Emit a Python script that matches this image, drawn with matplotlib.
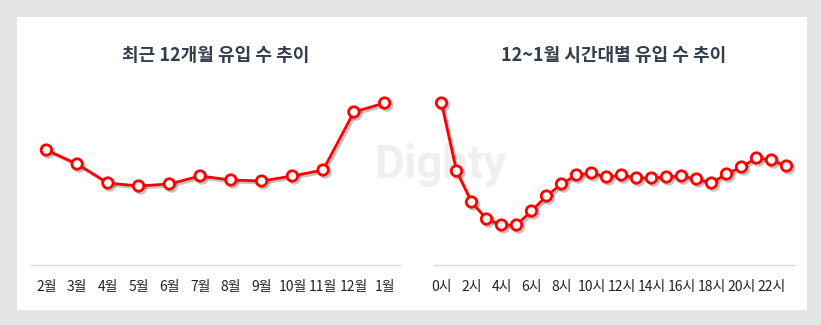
import matplotlib
matplotlib.use("Agg")
import matplotlib.pyplot as plt
import matplotlib.patheffects as pe
from matplotlib.patches import Rectangle

plt.rcParams['font.family'] = ['Noto Sans CJK KR', 'DejaVu Sans']

# monthly inflow over the last 12 months
months = ['2월', '3월', '4월', '5월', '6월', '7월', '8월', '9월', '10월', '11월', '12월', '1월']
monthly_visits = [115, 101, 82, 79, 81, 89, 85, 84, 89, 95, 153, 162]

# hourly inflow, Dec~Jan
hours = list(range(24))
hourly_visits = [162, 94, 63, 46, 40, 40, 54, 69, 81, 90, 92, 88, 90, 87, 87, 88, 89, 86,
                 82, 91, 98, 107, 105, 99]
hour_ticks = list(range(0, 24, 2))
hour_labels = [f'{h}시' for h in hour_ticks]

W, H = 821, 325
fig = plt.figure(figsize=(W / 100, H / 100), dpi=100)
fig.patch.set_facecolor('#e5e5e5')
fig.patches.append(Rectangle((17 / W, 1 - 310 / H), 790 / W, 293 / H,
                             transform=fig.transFigure, facecolor='white',
                             edgecolor='none', zorder=-2))
fig.text(440 / W, 1 - 165 / H, 'Dighty', ha='center', va='center', fontsize=33,
         fontweight='bold', color='#efefef', family='Roboto', zorder=-1)


def px_axes(x0, x1, y_top, y_bot):
    return fig.add_axes([x0 / W, 1 - y_bot / H, (x1 - x0) / W, (y_bot - y_top) / H])


shadow = [pe.SimpleLineShadow(offset=(1.5, -1.5), shadow_color='#555555', alpha=0.35),
          pe.Normal()]


def draw_panel(ax, x, y, ticks, labels, title):
    ax.set_facecolor('none')
    ax.plot(x, y, color='#ff0000', lw=2, marker='o', ms=7.5, mfc='white',
            mec='#ff0000', mew=2, path_effects=shadow, clip_on=False, zorder=3)
    ax.set_ylim(0, 180)
    ax.set_xlim(-0.5, len(x) - 0.5)
    for s in ['top', 'left', 'right']:
        ax.spines[s].set_visible(False)
    ax.spines['bottom'].set_color('#d9d9d9')
    ax.spines['bottom'].set_linewidth(1)
    ax.set_yticks([])
    ax.set_xticks(ticks)
    ax.set_xticklabels(labels, fontsize=10, color='#222222')
    ax.tick_params(axis='x', length=0, pad=11)
    ax.set_title(title, fontsize=13, fontweight='bold', color='#333d4b', pad=17)


ax1 = px_axes(31, 400, 85, 265)
draw_panel(ax1, list(range(len(months))), monthly_visits, list(range(len(months))),
           months, '최근 12개월 유입 수 추이')

ax2 = px_axes(434, 794, 85, 265)
draw_panel(ax2, hours, hourly_visits, hour_ticks, hour_labels,
           '12~1월 시간대별 유입 수 추이')

fig.savefig('out.png', dpi=100, facecolor=fig.get_facecolor())
